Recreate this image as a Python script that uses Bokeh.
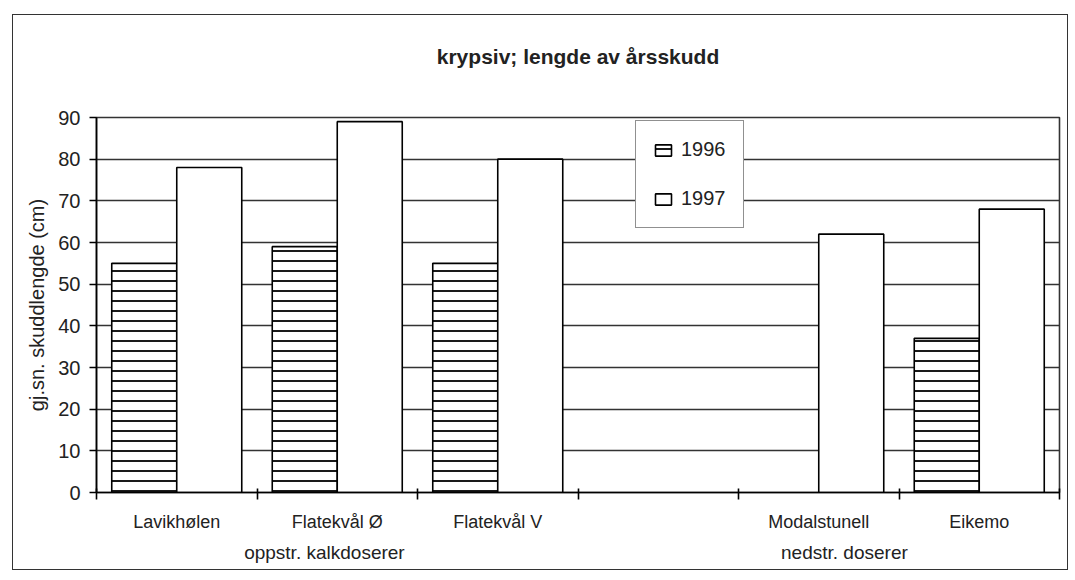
from bokeh.plotting import figure
from bokeh.models import ColumnDataSource, FixedTicker, LinearAxis, Range1d, Legend, LegendItem
from bokeh.transform import dodge
from bokeh.embed import file_html
from bokeh.resources import INLINE

# ---- data ----
categories = ["Lavikhølen", "Flatekvål Ø", "Flatekvål V", "", "Modalstunell", "Eikemo"]
values_1996 = [55, 59, 55, float("nan"), float("nan"), 37]
values_1997 = [78, 89, 80, float("nan"), 62, 68]
groups = ["oppstr. kalkdoserer", "nedstr. doserer"]
group_pos = [1.42, 4.66]
y_ticks = [0, 10, 20, 30, 40, 50, 60, 70, 80, 90]
title_text = "krypsiv; lengde av årsskudd"

FONT = "Liberation Sans"
TXT = "#222222"

centers = [i + 0.5 for i in range(len(categories))]
src = ColumnDataSource(dict(x=centers, v96=values_1996, v97=values_1997))

p = figure(width=1056, height=556, output_backend="svg", toolbar_location=None,
           title=title_text + "\n\u00a0",
           x_range=Range1d(0, len(categories)), y_range=Range1d(0, 90),
           min_border_left=83, min_border_right=10, min_border_top=102, min_border_bottom=79)
p.styles = {"border": "1.5px solid #333", "box-sizing": "border-box",
            "margin-left": "12px", "margin-top": "14px"}

bw = 0.405
r96 = p.vbar(x=dodge("x", -bw / 2, range=p.x_range), top="v96", width=bw, source=src,
             fill_color="white", line_color="black", line_width=1.6,
             hatch_pattern="horizontal_line", hatch_color="black", hatch_scale=10, hatch_weight=1.8)
r97 = p.vbar(x=dodge("x", bw / 2, range=p.x_range), top="v97", width=bw, source=src,
             fill_color="white", line_color="black", line_width=1.6)

# title
p.title.align = "center"
p.title.text_font = FONT
p.title.text_font_size = "21px"
p.title.text_font_style = "bold"
p.title.text_color = TXT
p.title.standoff = 53

# y axis
p.yaxis.ticker = FixedTicker(ticks=y_ticks)
p.yaxis.axis_label = "gj.sn. skuddlengde (cm)"
p.yaxis.axis_label_text_font = FONT
p.yaxis.axis_label_text_font_size = "20px"
p.yaxis.axis_label_text_font_style = "normal"
p.yaxis.axis_label_text_color = TXT
p.yaxis.axis_label_standoff = 7
p.yaxis.major_label_text_font = FONT
p.yaxis.major_label_text_font_size = "20px"
p.yaxis.major_label_text_color = TXT
p.yaxis.major_tick_in = 0
p.yaxis.major_tick_out = 7
p.yaxis.minor_tick_line_color = None
p.yaxis.axis_line_width = 1.6
p.yaxis.major_tick_line_width = 1.6
p.yaxis.major_label_standoff = 9

# x axis: ticks at boundaries, labels at centers
p.xaxis.ticker = FixedTicker(ticks=centers, minor_ticks=list(range(len(categories) + 1)))
p.xaxis.major_label_overrides = {c: lab for c, lab in zip(centers, categories)}
p.xaxis.major_tick_line_color = None
p.xaxis.minor_tick_in = 4
p.xaxis.minor_tick_out = 7
p.xaxis.minor_tick_line_width = 1.6
p.xaxis.axis_line_width = 1.6
p.xaxis.major_label_text_font = FONT
p.xaxis.major_label_text_font_size = "18px"
p.xaxis.major_label_text_color = TXT
p.xaxis.major_label_standoff = 12

gax = LinearAxis(ticker=FixedTicker(ticks=group_pos),
                 major_label_overrides={g: t for g, t in zip(group_pos, groups)},
                 axis_line_color=None, major_tick_line_color=None, minor_tick_line_color=None,
                 major_label_text_font=FONT, major_label_text_font_size="19px",
                 major_label_text_color=TXT, major_label_standoff=1)
p.add_layout(gax, "below")

# grid
p.xgrid.grid_line_color = None
p.ygrid.ticker = FixedTicker(ticks=y_ticks)
p.ygrid.grid_line_color = "#333333"
p.ygrid.grid_line_width = 1.6
p.outline_line_color = "#333333"
p.outline_line_width = 1.6

legend = Legend(items=[LegendItem(label="1996", renderers=[r96]),
                       LegendItem(label="1997", renderers=[r97])],
                location=(539, 264), padding=17, margin=0, spacing=26,
                glyph_width=20, glyph_height=14, label_height=20, label_standoff=8,
                label_text_font=FONT, label_text_font_size="20px", label_text_color=TXT,
                border_line_color="#222222", border_line_width=1.6,
                background_fill_color="white", background_fill_alpha=1)
p.add_layout(legend, "center")

open("out.html", "w").write(file_html(p, INLINE))
